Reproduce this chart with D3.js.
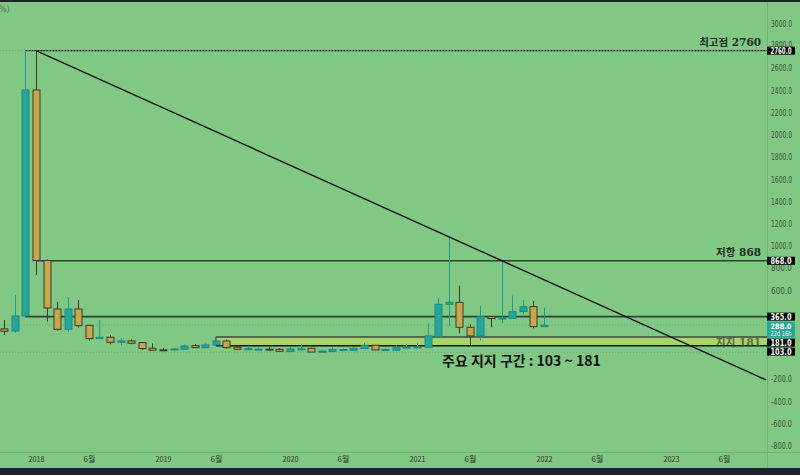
<!DOCTYPE html>
<html><head><meta charset="utf-8">
<script src="https://cdn.jsdelivr.net/npm/d3@7"></script>
<style>body{margin:0;background:#80c884;} svg{display:block}</style>
</head><body>
<svg id="c" width="800" height="475"></svg>
<script>
// ---- data ----
const months = ["2017-10","2017-11","2017-12",
 "2018-01","2018-02","2018-03","2018-04","2018-05","2018-06","2018-07","2018-08","2018-09","2018-10","2018-11","2018-12",
 "2019-01","2019-02","2019-03","2019-04","2019-05","2019-06","2019-07","2019-08","2019-09","2019-10","2019-11","2019-12",
 "2020-01","2020-02","2020-03","2020-04","2020-05","2020-06","2020-07","2020-08","2020-09","2020-10","2020-11","2020-12",
 "2021-01","2021-02","2021-03","2021-04","2021-05","2021-06","2021-07","2021-08","2021-09","2021-10","2021-11","2021-12",
 "2022-01"];
const opens  = [254,235,371, 2406,870,434,251,434,287,167,179,134,146,131,80, 66,65,71,104,86,110,146,89,75,71,72,71, 50,73,80,44,50,67,62,77,107,67,62,88, 90,89,185,476,494,269,191,365,347,350,410,455, 275];
const highs  = [335,560,2750, 2760,880,497,542,515,290,335,200,173,161,137,125, 80,80,113,119,125,150,158,104,101,86,95,80, 92,116,86,62,89,80,86,128,110,80,107,116, 125,305,536,1080,644,296,461,368,868,554,515,506, 446];
const lows   = [200,218,353, 740,320,239,230,266,149,165,116,107,116,65,59, 60,60,68,84,84,108,77,65,65,66,66,50, 48,68,44,44,48,64,60,75,63,64,60,85, 88,85,180,281,215,110,149,269,305,345,386,260, 270];
const closes = [233,371,2406, 870,443,251,434,284,167,179,134,146,125,77,62, 63,74,101,86,110,146,86,71,77,72,71,53, 74,75,46,56,68,69,80,107,65,69,86,90, 92,191,476,494,269,191,365,347,352,410,455,275, 288];

const yTickValues = [-800,-600,-400,-200,600,800,1000,1200,1400,1600,1800,2000,2200,2400,2600,2800,3000];
const xTickMonths = ["2018-01","2018-06","2019-01","2019-06","2020-01","2020-06","2021-01","2021-06","2022-01","2022-06","2023-01","2023-06"];
const xTickLabels = ["2018","6월","2019","6월","2020","6월","2021","6월","2022","6월","2023","6월"];

const peakValue = 2760, resistValue = 868, midValue = 365;
const supportTop = 181, supportBottom = 103;
const lastPrice = 288, lowestValue = 44;
const lastPriceTimer = "22d 16h";
const trendStart = {month:"2018-01", value:2760};
const trendEnd   = {month:"2023-10", value:-205};
const supportStartMonth = "2019-06";
const levelValues = [2760, 868, 181];
const levelTexts  = ["최고점 2760", "저항 868", "지지 181"];
const tagValues = [2760, 868, 365, 181, 103];
const zoneText = "주요 지지 구간 : 103 ~ 181";

// ---- helpers ----
const mIdx = s => { const [yy, mm] = s.split("-").map(Number); return (yy-2018)*12 + (mm-1); };
const W = 800, H = 475, axisX = 767;
const x = d3.scaleLinear().domain([-3.4, 69.07]).range([0, axisX]);
const y = d3.scaleLinear().domain([-800, 3000]).range([446, 24]);

const svg = d3.select("#c");
svg.append("rect").attr("width",W).attr("height",H).attr("fill","#80c884");

svg.append("clipPath").attr("id","pc").append("rect").attr("x",0).attr("y",2).attr("width",axisX).attr("height",450);
const plot = svg.append("g").attr("clip-path","url(#pc)");

// faint dotted lines
[peakValue, lastPrice, lowestValue].forEach((v,i)=>{
  plot.append("line").attr("x1",0).attr("x2",axisX).attr("y1",y(v)).attr("y2",y(v))
    .attr("stroke", i===1 ? "#4fae98" : "#6f9f74").attr("stroke-width",1).attr("stroke-dasharray","1,2").attr("opacity",0.8);
});

// support band
const sx = x(mIdx(supportStartMonth));
plot.append("rect").attr("x",sx).attr("y",y(supportTop)).attr("width",axisX-sx).attr("height",y(supportBottom)-y(supportTop))
  .attr("fill","#a9d46c");
plot.append("line").attr("x1",sx).attr("x2",axisX).attr("y1",y(supportTop)).attr("y2",y(supportTop)).attr("stroke","#3a4a3a").attr("stroke-width",1.5);
plot.append("line").attr("x1",sx).attr("x2",sx).attr("y1",y(supportTop)).attr("y2",y(supportBottom)).attr("stroke","#3a4a3a").attr("stroke-width",1.2);
plot.append("line").attr("x1",sx).attr("x2",axisX).attr("y1",y(supportBottom)).attr("y2",y(supportBottom)).attr("stroke","#111").attr("stroke-width",1.5);

// horizontal levels
plot.append("line").attr("x1",x(mIdx("2017-12"))).attr("x2",axisX).attr("y1",y(peakValue)).attr("y2",y(peakValue))
  .attr("stroke","#111").attr("stroke-width",1.3).attr("stroke-dasharray","2,1");
plot.append("line").attr("x1",x(mIdx("2018-01"))).attr("x2",axisX).attr("y1",y(resistValue)).attr("y2",y(resistValue))
  .attr("stroke","#2e4230").attr("stroke-width",1.6);
plot.append("line").attr("x1",x(mIdx("2017-12"))).attr("x2",axisX).attr("y1",y(midValue)).attr("y2",y(midValue))
  .attr("stroke","#2e4230").attr("stroke-width",1.6);

// candles
const candles = months.map((m,i)=>({m:mIdx(m), o:opens[i], h:highs[i], l:lows[i], c:closes[i]}));
const g = plot.append("g");
candles.forEach(d=>{
  const up = d.c >= d.o;
  const cx = Math.round(x(d.m)) + 0.5;
  g.append("line").attr("x1",cx).attr("x2",cx).attr("y1",y(d.h)).attr("y2",y(d.l))
    .attr("stroke", up ? "#1f9a8c" : "#3b3a2c").attr("stroke-width",1);
  const top = y(Math.max(d.o,d.c)), bot = y(Math.min(d.o,d.c));
  g.append("rect").attr("x",cx-3.5).attr("y",top).attr("width",7).attr("height",Math.max(1,bot-top))
    .attr("fill", up ? "#26a69a" : "#c8a64b").attr("stroke", up ? "#1e8a80" : "#3b3a2c").attr("stroke-width",1);
});

// trend line
plot.append("line").attr("x1",x(mIdx(trendStart.month))).attr("y1",y(trendStart.value))
  .attr("x2",x(mIdx(trendEnd.month))).attr("y2",y(trendEnd.value)).attr("stroke","#111").attr("stroke-width",1.4);

// level labels
levelValues.forEach((v,i)=>{
  const isSupport = i===2;
  svg.append("text").attr("x",761).attr("y", isSupport ? y(v)+9 : y(v)-4.5)
    .attr("text-anchor","end").attr("font-family","'DejaVu Serif','Noto Sans CJK KR',serif")
    .attr("font-weight","bold").attr("font-size",10.5)
    .attr("fill", isSupport ? "#3d4a3a" : "#1e2a1e").attr("opacity", isSupport ? 0.75 : 1)
    .text(levelTexts[i]);
});

// zone text
svg.append("text").attr("x",442).attr("y",y(supportBottom)+20.5).attr("font-family","'Noto Sans CJK KR',sans-serif")
  .attr("font-size",14).attr("font-weight",600).attr("fill","#111").text(zoneText);

// axes frame
svg.append("line").attr("x1",axisX+0.5).attr("x2",axisX+0.5).attr("y1",2).attr("y2",468).attr("stroke","#6fb474").attr("stroke-width",1);
svg.append("line").attr("x1",0).attr("x2",W).attr("y1",452.5).attr("y2",452.5).attr("stroke","#6fb474").attr("stroke-width",1);

// y axis
const yAxis = d3.axisRight(y).tickValues(yTickValues).tickSize(0).tickPadding(4).tickFormat(d=>d.toFixed(1));
const ya = svg.append("g").attr("transform",`translate(${axisX},0)`).call(yAxis);
ya.select(".domain").remove();
ya.selectAll("text").attr("font-family","'DejaVu Sans',sans-serif").attr("font-size",8).attr("fill","#3c4f3c")
  .attr("textLength",21).attr("lengthAdjust","spacingAndGlyphs");
ya.selectAll(".tick").filter(d=>d===2800).select("text").attr("dy","0.1em");

// x axis
const xAxis = d3.axisBottom(x).tickValues(xTickMonths.map(mIdx)).tickSize(0).tickPadding(4)
  .tickFormat((d,i)=>xTickLabels[i]);
const xa = svg.append("g").attr("transform","translate(0,452)").call(xAxis);
xa.select(".domain").remove();
xa.selectAll("text").attr("font-family","'Noto Sans CJK KR','DejaVu Sans',sans-serif").attr("font-size",8).attr("fill","#333");
xa.selectAll("text").filter((d,i)=>/^\d+$/.test(xTickLabels[i])).attr("textLength",16).attr("lengthAdjust","spacingAndGlyphs");

// price tags with simple collision push-down
const tags = tagValues.map(v=>({v, h:8, top:y(v)-4, teal:false}));
tags.push({v:lastPrice, h:16, top:y(lastPrice)-5, teal:true});
tags.sort((a,b)=>a.top-b.top);
for(let i=1;i<tags.length;i++){ const p=tags[i-1]; if(tags[i].top < p.top+p.h+1) tags[i].top = p.top+p.h+1; }
tags.forEach(t=>{
  svg.append("rect").attr("x",axisX).attr("y",t.top).attr("width",28).attr("height",t.h)
    .attr("fill", t.teal ? "#26a69a" : "#000");
  const tx = (s,yy,fs)=>svg.append("text").attr("x",axisX+3.5).attr("y",yy).attr("font-family","'DejaVu Sans',sans-serif")
    .attr("font-size",fs).attr("font-weight","bold").attr("fill","#fff").attr("textLength",21).attr("lengthAdjust","spacingAndGlyphs").text(s);
  if(t.teal){ tx(t.v.toFixed(1), t.top+7, 7.5); tx(lastPriceTimer, t.top+14.5, 7).attr("font-weight","normal"); }
  else tx(t.v.toFixed(1), t.top+7, 8);
});

// top-left unit fragment
svg.append("text").attr("x",-1).attr("y",12).attr("font-family","'DejaVu Sans',sans-serif").attr("font-size",8).attr("fill","#557a57").text("%)");

// frame bars
svg.append("rect").attr("x",0).attr("y",0).attr("width",W).attr("height",2).attr("fill","#1e222d");
svg.append("rect").attr("x",0).attr("y",468).attr("width",W).attr("height",7).attr("fill","#1e222d");
</script>
</body></html>
